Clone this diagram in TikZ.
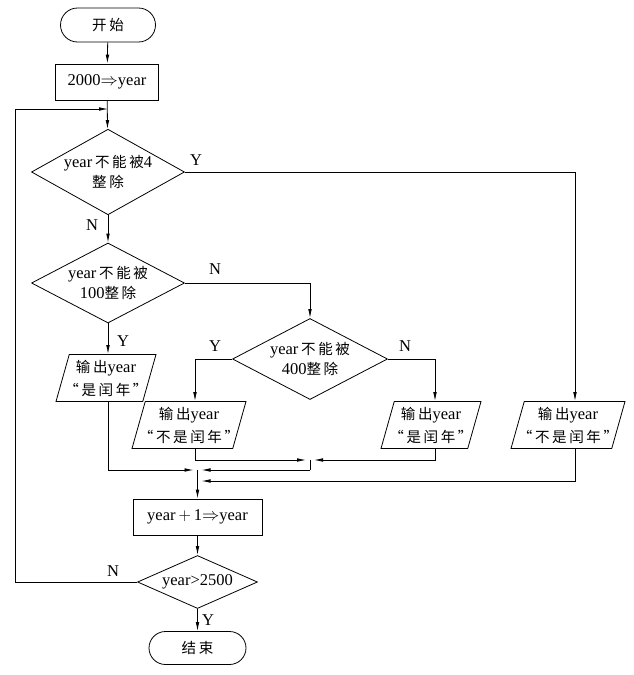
\documentclass[tikz,border=0pt]{standalone}
\usepackage{fontspec}
\setmainfont{Liberation Serif}
\newfontfamily\cjk[Scale=0.88,LetterSpace=18]{Noto Sans CJK SC}
\usetikzlibrary{shapes.geometric,shapes.misc,arrows.meta}
\begin{document}
\begin{tikzpicture}[x=1pt,y=-1pt,
  every node/.style={font=\fontsize{16.5}{20}\selectfont},
  base/.style={draw,line width=0.8pt,inner sep=0pt,align=center},
  term/.style={base,rounded rectangle},
  proc/.style={base,rectangle},
  dec/.style={base,diamond,inner xsep=-14pt,inner ysep=-4pt},
  io/.style={base,trapezium,trapezium left angle=70,trapezium right angle=110,trapezium stretches body,inner xsep=-8pt,font=\fontsize{16.5}{23}\selectfont},
  lbl/.style={inner sep=0pt},
  line/.style={line width=0.8pt},
  arr/.style={line,-{Latex[length=9pt,width=3.6pt]}},
  jarr/.style={arr,shorten >=4pt}]
\useasboundingbox (0,0) rectangle (633,675);
% nodes
\node[term,minimum width=95pt,minimum height=34pt] (start) at (108,25) {\cjk 开始};
\node[proc,minimum width=103pt,minimum height=36pt] (init) at (107,82) {2000$\Rightarrow$year};
\node[dec,minimum width=153pt,minimum height=79pt] (d1) at (108,172) {year\,{\cjk 不能被}4\\{\cjk 整除}};
\node[dec,minimum width=153pt,minimum height=80pt] (d2) at (108,283) {year\,{\cjk 不能被}\\100{\cjk 整除}};
\node[dec,minimum width=155pt,minimum height=81pt] (d3) at (310,359) {year\,{\cjk 不能被}\\400{\cjk 整除}};
\node[io,minimum width=100pt,minimum height=47pt] (p1) at (106,378) {{\cjk 输出}year\\{\cjk “是闰年”}};
\node[io,minimum width=114pt,minimum height=47pt] (p2) at (189,425) {{\cjk 输出}year\\{\cjk “不是闰年”}};
\node[io,minimum width=100pt,minimum height=47pt] (p3) at (431,425) {{\cjk 输出}year\\{\cjk “是闰年”}};
\node[io,minimum width=114pt,minimum height=47pt] (p4) at (568,425) {{\cjk 输出}year\\{\cjk “不是闰年”}};
\node[proc,minimum width=129pt,minimum height=36pt] (inc) at (197.5,517) {year$\,+\,$1$\Rightarrow$year};
\node[dec,minimum width=120pt,minimum height=53pt] (d4) at (197.5,582) {year>2500};
\node[term,minimum width=97pt,minimum height=33pt] (stop) at (197.5,648) {\cjk 结束};
% junction coordinates
\coordinate (loop) at (108,109);
\coordinate (lc) at (15,582);
\coordinate (j1) at (310,460);
\coordinate (j1b) at (310,470);
\coordinate (j2) at (197.5,470);
\coordinate (j3) at (197.5,481);
\coordinate (r4) at (575,172);
% connectors
\draw[arr] (start) -- (init);
\draw[arr] (init) -- (d1);
\draw[arr] (d4.west) -- (lc) |- (loop);
\draw[arr] (d1.east) -- (r4) -- (r4 |- p4.north);
\draw[arr] (d1) -- (d2);
\draw[arr] (d2.east) -| (d3.north);
\draw[arr] (d2.south) -- (108,0 |- p1.north);
\draw[arr] (d3.west) -| (195,0 |- p2.north);
\draw[arr] (d3.east) -| (435,0 |- p3.north);
\draw[jarr] (195,0 |- p2.south) |- (j1);
\draw[jarr] (435,0 |- p3.south) |- (j1);
\draw[line] (j1) -- (j1b);
\draw[jarr] (j1b) -- (j2);
\draw[jarr] (108,0 |- p1.south) |- (j2);
\draw[jarr] (r4 |- p4.south) |- (j3);
\draw[arr] (j2) -- (inc);
\draw[arr] (inc) -- (d4);
\draw[arr] (d4) -- (stop);
% labels
\node[lbl] (ly1) at (196,160) {Y};
\node[lbl] (ln1) at (92,225) {N};
\node[lbl] (ln2) at (215,269) {N};
\node[lbl] (ly2) at (123,341) {Y};
\node[lbl] (ly3) at (215,346) {Y};
\node[lbl] (ln3) at (405,346) {N};
\node[lbl] (ln4) at (113,571) {N};
\node[lbl] (ly4) at (208,620) {Y};
\end{tikzpicture}
\end{document}
